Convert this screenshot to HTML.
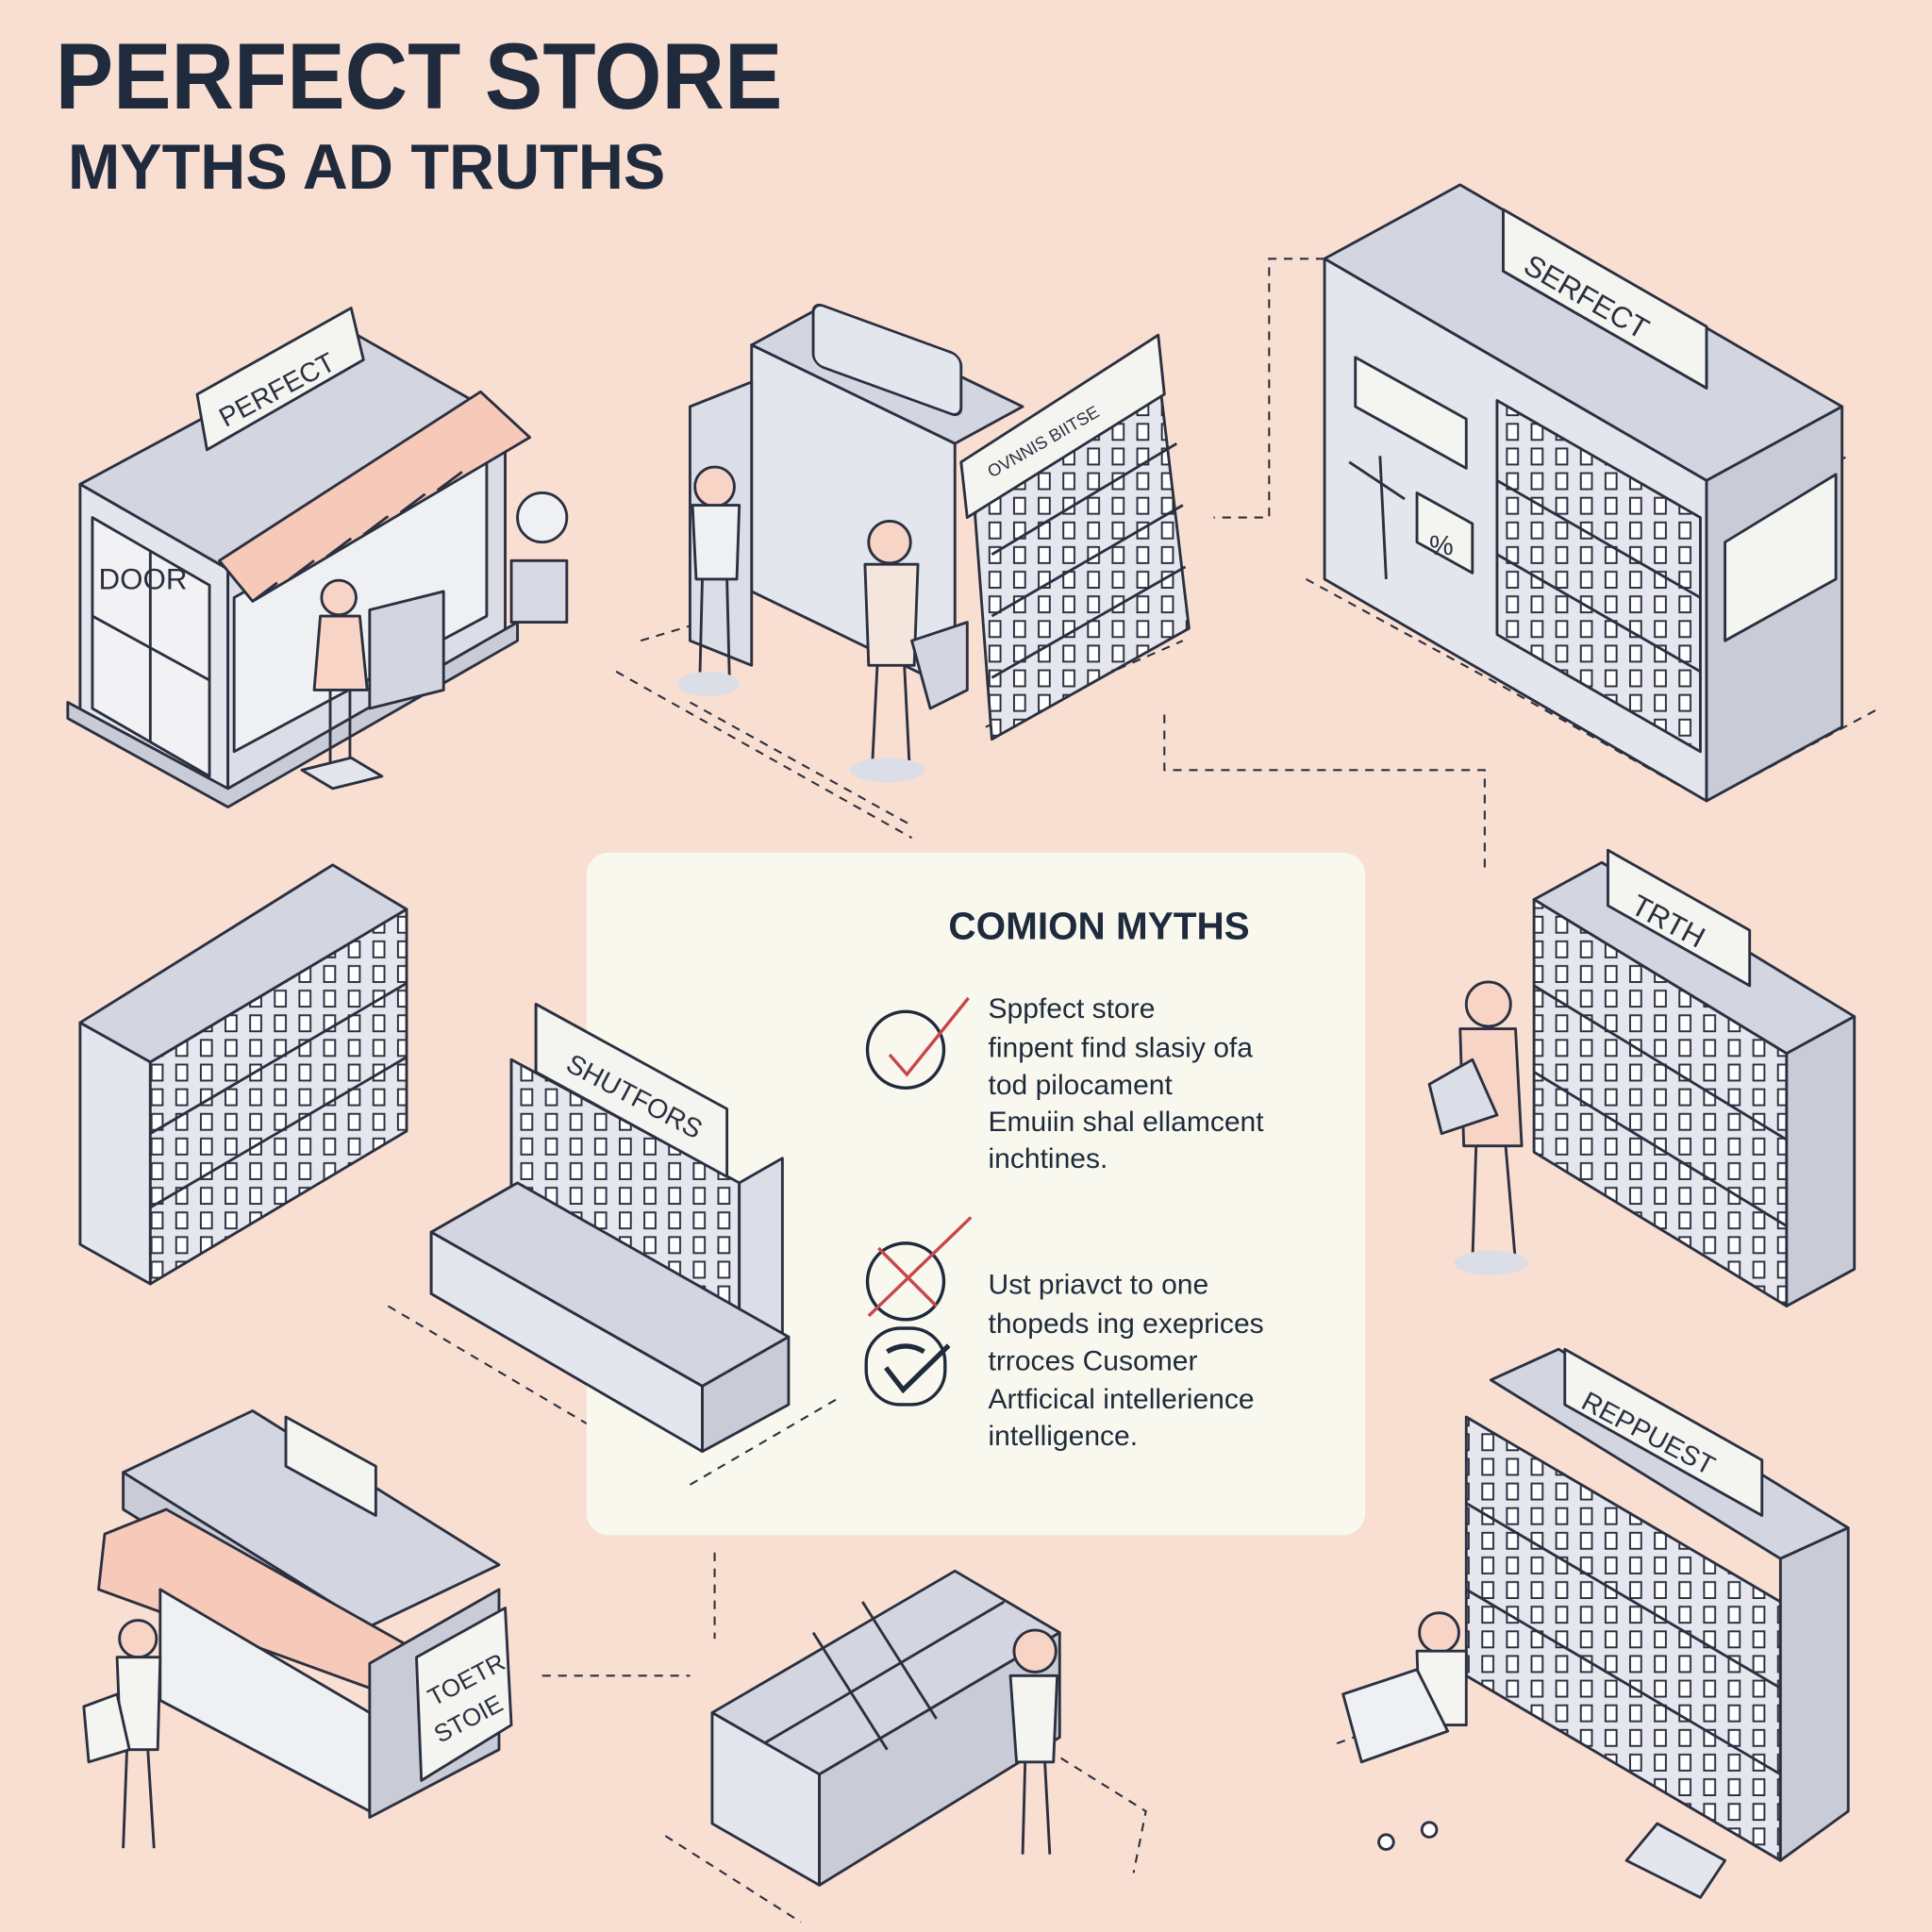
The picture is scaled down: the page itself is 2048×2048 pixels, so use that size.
<!DOCTYPE html>
<html><head><meta charset="utf-8"><style>
html,body{margin:0;padding:0;background:#f9ded2;}
svg{display:block}
text{font-family:"Liberation Sans","DejaVu Sans",sans-serif;}
</style></head><body>
<svg width="2048" height="2048" viewBox="0 0 1568 1568" xmlns="http://www.w3.org/2000/svg">
<rect width="1568" height="1568" fill="#f9ded2"/>
<defs>
<pattern id="sh" width="20" height="20" patternUnits="userSpaceOnUse"><rect width="20" height="20" fill="#e6e7ee"/><rect x="3" y="4" width="9" height="13" fill="#fff" stroke="#2b3040" stroke-width="1.5"/></pattern>
</defs>
<g font-weight="bold" fill="#1f2a3c">
<text x="45" y="88" font-size="76" textLength="590" lengthAdjust="spacingAndGlyphs">PERFECT STORE</text>
<text x="55" y="153" font-size="52" textLength="485" lengthAdjust="spacingAndGlyphs">MYTHS AD TRUTHS</text>
</g>

<g fill="none" stroke="#2b3040" stroke-width="1.6" stroke-dasharray="7 6">
<path d="M500 545 L740 680 M520 520 L570 505 M560 570 L740 670 M800 590 L960 520 M1060 470 L1225 560 L1385 650 L1525 575 M1075 210 L1030 210 L1030 420 L985 420 M945 580 L945 625 L1205 625 L1205 705 M1480 380 L1500 370 M315 1060 L560 1205 L680 1135 M580 1260 L580 1330 M440 1360 L560 1360 M1085 1415 L1180 1380 M850 1420 L930 1470 L920 1520 M540 1490 L650 1560"/>
</g>

<g stroke="#2b3040" stroke-width="2.2" stroke-linejoin="round">
<!-- Store A -->
<polygon points="65,393 290,272 410,340 185,462" fill="#d3d6e0"/>
<polygon points="65,393 185,462 185,650 65,583" fill="#e4e6ed"/>
<polygon points="185,462 410,340 410,520 185,650" fill="#dcdee7"/>
<polygon points="75,420 170,475 170,630 75,575" fill="#f2f2f5"/>
<line x1="122" y1="448" x2="122" y2="602"/><line x1="75" y1="500" x2="170" y2="552"/>
<polygon points="190,485 395,370 395,500 190,610" fill="#eef0f4"/>
<polygon points="178,455 390,318 430,355 205,488" fill="#f7c9b8"/>
<path d="M205 488 l20 -15 M235 470 l20 -15 M265 452 l20 -15 M295 434 l20 -15 M325 416 l20 -15 M355 398 l20 -15" fill="none"/>
<polygon points="160,320 285,250 295,292 168,365" fill="#f4f4f0"/>
<polygon points="55,583 185,655 420,520 420,505 185,640 55,570" fill="#c9ccd6"/>
<circle cx="440" cy="420" r="20" fill="#eef0f4"/><rect x="415" y="455" width="45" height="50" fill="#d7dae3"/>
<polygon points="300,495 360,480 360,560 300,575" fill="#d3d6e0"/>
<circle cx="275" cy="485" r="14" fill="#f7d4c6"/><path d="M260 500 L292 500 L298 560 L255 560 Z" fill="#f7d4c6"/>
<line x1="268" y1="560" x2="268" y2="622"/><line x1="284" y1="560" x2="284" y2="622"/>
<polygon points="245,625 285,615 310,630 270,640" fill="#e4e6ed"/>

<!-- Store B -->
<polygon points="610,280 665,250 830,330 775,360" fill="#d3d6e0"/>
<polygon points="610,280 775,360 775,560 610,480" fill="#e4e6ed"/>
<rect x="660" y="245" width="120" height="50" rx="8" fill="#e4e6ed" transform="skewY(20) translate(0,-240)"/>
<polygon points="560,330 610,310 610,540 560,520" fill="#dcdee7"/>
<polygon points="790,400 940,300 965,510 805,600" fill="url(#sh)"/>
<polygon points="780,375 940,272 945,320 785,420" fill="#f4f4f0"/>
<path d="M805 450 L955 360 M805 500 L960 410 M805 550 L962 460" fill="none"/>
<circle cx="580" cy="395" r="16" fill="#f7d4c6"/><path d="M562 410 L600 410 L598 470 L565 470 Z" fill="#eef0f4"/>
<line x1="570" y1="470" x2="568" y2="550"/><line x1="590" y1="470" x2="592" y2="550"/>
<ellipse cx="575" cy="555" rx="25" ry="10" fill="#dcdee7" stroke="none"/>
<circle cx="722" cy="440" r="17" fill="#f7d4c6"/><path d="M702 458 L745 458 L742 540 L705 540 Z" fill="#f4e6dc"/>
<line x1="712" y1="540" x2="708" y2="620"/><line x1="734" y1="540" x2="738" y2="620"/>
<polygon points="740,520 785,505 785,560 755,575" fill="#d3d6e0"/>
<ellipse cx="720" cy="625" rx="30" ry="10" fill="#dcdee7" stroke="none"/>

<!-- Store C -->
<polygon points="1075,210 1185,150 1495,330 1385,390" fill="#d3d6e0"/>
<polygon points="1075,210 1385,390 1385,650 1075,470" fill="#e4e6ed"/>
<polygon points="1385,390 1495,330 1495,590 1385,650" fill="#c9ccd6"/>
<polygon points="1100,290 1190,340 1190,380 1100,330" fill="#f4f4f0"/>
<polygon points="1215,325 1380,420 1380,610 1215,515" fill="url(#sh)"/>
<path d="M1215 390 L1380 485 M1215 450 L1380 545" fill="none"/>
<polygon points="1150,400 1195,425 1195,465 1150,440" fill="#f4f4f0"/>
<polygon points="1220,195 1385,290 1385,315 1220,220" fill="#c9ccd6"/>
<polygon points="1220,170 1385,265 1385,315 1220,220" fill="#f4f4f0"/>
<polygon points="1400,440 1490,385 1490,470 1400,520" fill="#f4f4f0"/>
<path d="M1120 370 L1125 470 M1095 375 L1140 405" fill="none"/>

<!-- Store D -->
<polygon points="65,830 270,702 330,738 122,862" fill="#d3d6e0"/>
<polygon points="65,830 122,862 122,1042 65,1010" fill="#e4e6ed"/>
<polygon points="122,862 330,738 330,918 122,1042" fill="url(#sh)"/>
<path d="M122 920 L330 798 M122 980 L330 858" fill="none"/>

<!-- Store E -->
<polygon points="350,1000 420,960 640,1085 570,1125" fill="#d3d6e0"/>
<polygon points="350,1000 570,1125 570,1178 350,1050" fill="#e4e6ed"/>
<polygon points="570,1125 640,1085 640,1140 570,1178" fill="#c9ccd6"/>
<polygon points="415,860 600,960 600,1090 415,990" fill="url(#sh)"/>
<polygon points="600,960 635,940 635,1085 600,1100" fill="#c9ccd6"/>
<polygon points="435,815 590,900 590,955 435,870" fill="#f4f4f0"/>
<polygon points="590,900 600,893 600,950 590,955" fill="#c9ccd6"/>

<!-- Store F -->
<polygon points="1245,730 1300,700 1505,825 1450,855" fill="#d3d6e0"/>
<polygon points="1245,730 1450,855 1450,1060 1245,935" fill="url(#sh)"/>
<polygon points="1450,855 1505,825 1505,1030 1450,1060" fill="#c9ccd6"/>
<path d="M1245 800 L1450 925 M1245 870 L1450 995" fill="none"/>
<polygon points="1305,690 1420,755 1420,800 1305,735" fill="#f4f4f0"/>
<circle cx="1208" cy="815" r="18" fill="#f7d4c6"/>
<path d="M1185 835 L1230 835 L1235 930 L1188 930 Z" fill="#f7d4c6"/>
<polygon points="1160,880 1195,860 1215,905 1170,920" fill="#dcdee7"/>
<line x1="1198" y1="930" x2="1195" y2="1025"/><line x1="1222" y1="930" x2="1230" y2="1025"/>
<ellipse cx="1210" cy="1025" rx="30" ry="10" fill="#dcdee7" stroke="none"/>

<!-- Store G -->
<polygon points="100,1195 205,1145 405,1270 300,1320" fill="#d3d6e0"/>
<polygon points="100,1195 300,1320 300,1350 100,1225" fill="#c9ccd6"/>
<polygon points="232,1150 305,1190 305,1230 232,1190" fill="#f4f4f0"/>
<polygon points="85,1245 135,1225 330,1335 300,1370 80,1290" fill="#f7c9b8"/>
<polygon points="130,1290 300,1390 300,1470 130,1380" fill="#eef0f4"/>
<polygon points="300,1350 405,1290 405,1420 300,1475" fill="#c9ccd6"/>
<polygon points="338,1345 410,1305 415,1400 342,1445" fill="#f4f4f0"/>
<circle cx="112" cy="1330" r="15" fill="#f7d4c6"/><path d="M95 1345 L130 1345 L128 1420 L98 1420 Z" fill="#f4f4f0"/>
<line x1="103" y1="1420" x2="100" y2="1500"/><line x1="120" y1="1420" x2="125" y2="1500"/>
<polygon points="68,1385 95,1375 105,1420 72,1430" fill="#f4f4f0"/>

<!-- Store H -->
<polygon points="578,1390 775,1275 860,1325 665,1440" fill="#d3d6e0"/>
<polygon points="578,1390 665,1440 665,1530 578,1480" fill="#e4e6ed"/>
<polygon points="665,1440 860,1325 860,1410 665,1530" fill="#c9ccd6"/>
<path d="M620 1415 L815 1300 M700 1300 L760 1395 M660 1325 L720 1420" fill="none"/>
<circle cx="840" cy="1340" r="17" fill="#f7d4c6"/><path d="M820 1360 L858 1360 L855 1430 L825 1430 Z" fill="#f4f4f0"/>
<line x1="832" y1="1430" x2="830" y2="1505"/><line x1="848" y1="1430" x2="852" y2="1505"/>

<!-- Store I -->
<polygon points="1210,1120 1265,1095 1500,1240 1445,1265" fill="#d3d6e0"/>
<polygon points="1190,1150 1445,1300 1445,1510 1190,1360" fill="url(#sh)"/>
<polygon points="1445,1265 1500,1240 1500,1470 1445,1510" fill="#c9ccd6"/>
<path d="M1190 1220 L1445 1370 M1190 1290 L1445 1440" fill="none"/>
<polygon points="1270,1095 1430,1185 1430,1230 1270,1140" fill="#f4f4f0"/>
<circle cx="1168" cy="1325" r="16" fill="#f7d4c6"/><path d="M1150 1340 L1190 1340 L1190 1400 L1152 1400 Z" fill="#f4f4f0"/>
<polygon points="1090,1375 1150,1355 1175,1405 1105,1430" fill="#eef0f4"/>
<circle cx="1125" cy="1495" r="6" fill="#fff"/><circle cx="1160" cy="1485" r="6" fill="#fff"/>
<polygon points="1320,1510 1345,1480 1400,1510 1380,1540" fill="#e4e6ed"/>
</g>

<!-- Sign texts -->
<g fill="#2b3040" font-size="22">
<text transform="translate(183,347) rotate(-28)">PERFECT</text>
<text x="80" y="478" font-size="24">DOOR</text>
<text transform="translate(805,388) rotate(-30)" font-size="14">OVNNIS BIITSE</text>
<text transform="translate(1235,220) rotate(30)" font-size="24">SERFECT</text>
<text x="1160" y="450" font-size="22">%</text>
<text transform="translate(1322,740) rotate(28)" font-size="24">TRTH</text>
<text transform="translate(458,868) rotate(28)" font-size="22">SHUTFORS</text>
<text transform="translate(1282,1142) rotate(28)" font-size="22">REPPUEST</text>
<text transform="translate(352,1385) rotate(-28)" font-size="20">TOETR</text>
<text transform="translate(357,1415) rotate(-28)" font-size="20">STOIE</text>
</g>

<!-- Central panel -->
<rect x="476" y="692" width="632" height="554" rx="18" fill="#f8f8ee"/>
<!-- overlapping shelf E redrawn over panel -->
<g stroke="#2b3040" stroke-width="2.2" stroke-linejoin="round">
<polygon points="415,860 600,960 600,1090 415,990" fill="url(#sh)"/>
<polygon points="600,960 635,940 635,1085 600,1100" fill="#dcdee7"/>
<polygon points="350,1000 420,960 640,1085 570,1125" fill="#d3d6e0"/>
<polygon points="350,1000 570,1125 570,1178 350,1050" fill="#e4e6ed"/>
<polygon points="570,1125 640,1085 640,1140 570,1178" fill="#c9ccd6"/>
<polygon points="435,815 590,900 590,955 435,870" fill="#f4f4f0"/>
</g>
<text transform="translate(458,868) rotate(28)" font-size="22" fill="#2b3040">SHUTFORS</text>
<path d="M560 1205 L680 1135" stroke="#2b3040" stroke-width="1.6" stroke-dasharray="7 6" fill="none"/>

<text x="892" y="762" font-size="31" font-weight="bold" fill="#1f2a3c" text-anchor="middle">COMION MYTHS</text>
<g fill="none" stroke-width="2.6">
<circle cx="735" cy="852" r="31" stroke="#1f2a3c"/>
<path d="M722 856 L736 872 L786 810" stroke="#c8464a"/>
<circle cx="735" cy="1040" r="31" stroke="#1f2a3c"/>
<path d="M705 1068 L788 988 M713 1013 L760 1060" stroke="#c8464a"/>
<rect x="703" y="1078" width="64" height="62" rx="28" stroke="#1f2a3c"/>
<path d="M719 1110 L733 1128 L770 1092 M720 1097 Q735 1088 750 1097" stroke="#1f2a3c" stroke-width="4"/>
</g>
<g fill="#1f2a3c" font-size="23">
<text x="802" y="826">Sppfect store</text>
<text x="802" y="858">finpent find slasiy ofa</text>
<text x="802" y="888">tod pilocament</text>
<text x="802" y="918">Emuiin shal ellamcent</text>
<text x="802" y="948">inchtines.</text>
<text x="802" y="1050">Ust priavct to one</text>
<text x="802" y="1082">thopeds ing exeprices</text>
<text x="802" y="1112">trroces Cusomer</text>
<text x="802" y="1143">Artficical intellerience</text>
<text x="802" y="1173">intelligence.</text>
</g>
</svg>
</body></html>
